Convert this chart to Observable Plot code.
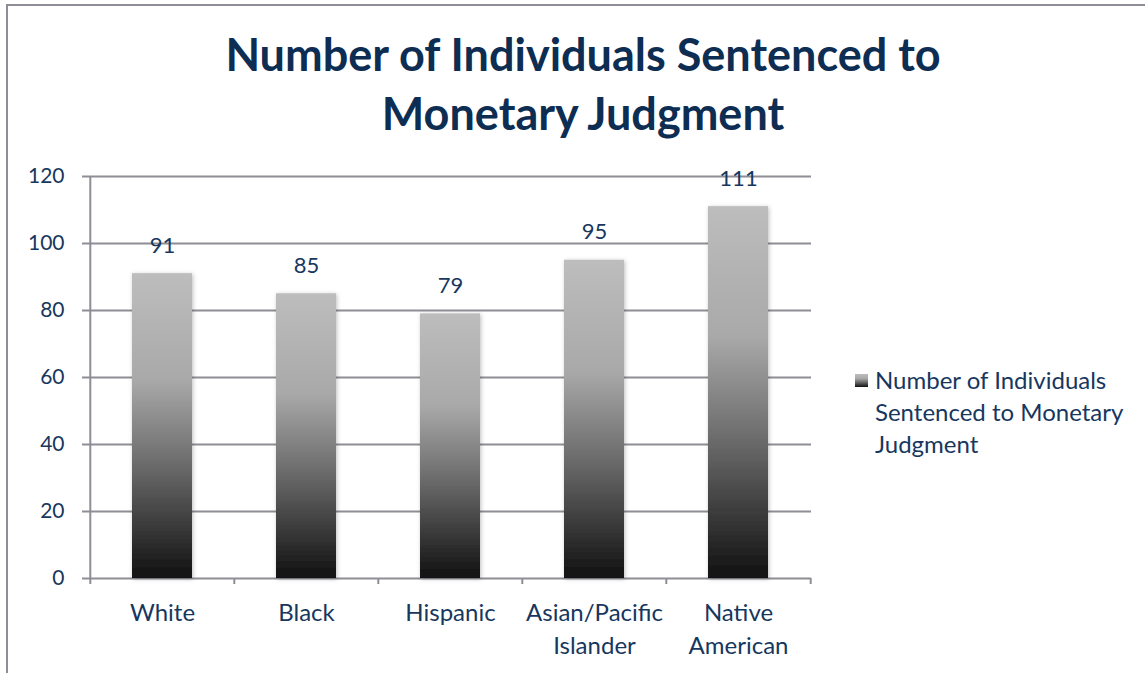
<!DOCTYPE html>
<html>
<head>
<meta charset="utf-8">
<script src="https://cdn.jsdelivr.net/npm/d3@7"></script>
<script src="https://cdn.jsdelivr.net/npm/@observablehq/plot@0.6"></script>
<style>
  html, body { margin: 0; padding: 0; background: #fff; }
  #wrap { position: relative; width: 1145px; height: 673px; overflow: hidden; font-family: Lato, "Open Sans", sans-serif; color: #17375E; }
  #bt { position: absolute; left: 6px; top: 4px; width: 1139px; height: 2px; background: #8e8e96; }
  #bl { position: absolute; left: 6px; top: 4px; width: 2px; height: 669px; background: #8e8e96; }
  #title { height: 150px; box-sizing: border-box; padding-top: 25px; text-align: center; width: 1166px; font-weight: 700; font-size: 45px; line-height: 59px; color: #0E2D52; white-space: nowrap; }
  #legend { position: absolute; left: 855px; top: 364px; display: flex; align-items: flex-start; font-size: 24px; line-height: 32px; white-space: nowrap; }
  #legend .sw { width: 13px; height: 13px; margin-top: 10px; margin-right: 7px; background: linear-gradient(#bdbdbd, #a8a8a8 35%, #666 65%, #111); }
  #chart svg { display: block; }
</style>
</head>
<body>
<div id="wrap">
  <div id="bt"></div><div id="bl"></div>
  <div id="title">Number of Individuals Sentenced to<br>Monetary Judgment</div>
  <div id="chart"></div>
  <div id="legend"><div class="sw"></div><div>Number of Individuals<br>Sentenced to Monetary<br>Judgment</div></div>
</div>
<script>
const categories = ["White", "Black", "Hispanic", "Asian/Pacific Islander", "Native American"];
const values = [91, 85, 79, 95, 111];
const tickLabels = ["White", "Black", "Hispanic", "Asian/Pacific\nIslander", "Native\nAmerican"];
const yTicks = [0, 20, 40, 60, 80, 100, 120];
const seriesName = "Number of Individuals Sentenced to Monetary Judgment";

const data = categories.map((c, i) => ({category: c, value: values[i], label: tickLabels[i]}));

const textColor = "#17375E";
const gridColor = "#8e8e96";

const defs = () => {
  const g = d3.create("svg:defs");
  const lg = g.append("linearGradient").attr("id", "barGrad").attr("x1", 0).attr("y1", 0).attr("x2", 0).attr("y2", 1);
  [[0, "#bdbdbd"], [0.35, "#a9a9a9"], [0.65, "#666666"], [1, "#111111"]].forEach(([o, c]) =>
    lg.append("stop").attr("offset", o).attr("stop-color", c));
  const f = g.append("filter").attr("id", "shadow").attr("x", "-20%").attr("y", "-10%").attr("width", "140%").attr("height", "120%");
  f.append("feDropShadow").attr("dx", 1).attr("dy", 1).attr("stdDeviation", 2).attr("flood-color", "#000").attr("flood-opacity", 0.25);
  return g.node();
};

const plotLeft = 89, plotRight = 1145 - 334;
const bw = (plotRight - plotLeft) / categories.length;

const plot = Plot.plot({
  width: 1145,
  height: 523,
  marginLeft: plotLeft,
  marginRight: 334,
  marginTop: 26,
  marginBottom: 95,
  style: {fontFamily: "Lato, 'Open Sans', sans-serif", fontSize: "21px", color: textColor, background: "transparent"},
  x: {domain: categories, paddingInner: 0.585, paddingOuter: 0.2925, axis: null},
  y: {domain: [0, 120], ticks: yTicks, axis: null},
  marks: [
    defs,
    Plot.ruleY(yTicks, {stroke: gridColor, strokeWidth: 2}),
    Plot.axisY({ticks: yTicks, tickSize: 7, tickPadding: 18, stroke: gridColor, strokeWidth: 2, fill: textColor, fontSize: 21, label: null, strokeOpacity: 1}),
    // y-axis line at the left band edge
    Plot.ruleX([categories[0]], {x: d => d, dx: -bw / 2, y1: -1.8, y2: 120, stroke: gridColor, strokeWidth: 2}),
    // category boundary ticks
    Plot.ruleX(categories.slice(1), {x: d => d, dx: -bw / 2, y1: -1.8, y2: 0, stroke: gridColor, strokeWidth: 2}),
    Plot.ruleX([categories[categories.length - 1]], {x: d => d, dx: bw / 2, y1: -1.8, y2: 0, stroke: gridColor, strokeWidth: 2}),
    Plot.barY(data, {x: "category", y: "value", fill: "url(#barGrad)"}),
    Plot.text(data, {x: "category", y: "value", text: d => String(d.value), dy: -28, fill: textColor, fontSize: 22}),
    Plot.text(data, {x: "category", y: 0, text: "label", dy: 19, lineAnchor: "top", lineHeight: 1.375, fill: textColor, fontSize: 24})
  ]
});
document.getElementById("chart").appendChild(plot);
d3.select(plot).selectAll("g[aria-label='bar'] rect").attr("filter", "url(#shadow)");
</script>
</body>
</html>
